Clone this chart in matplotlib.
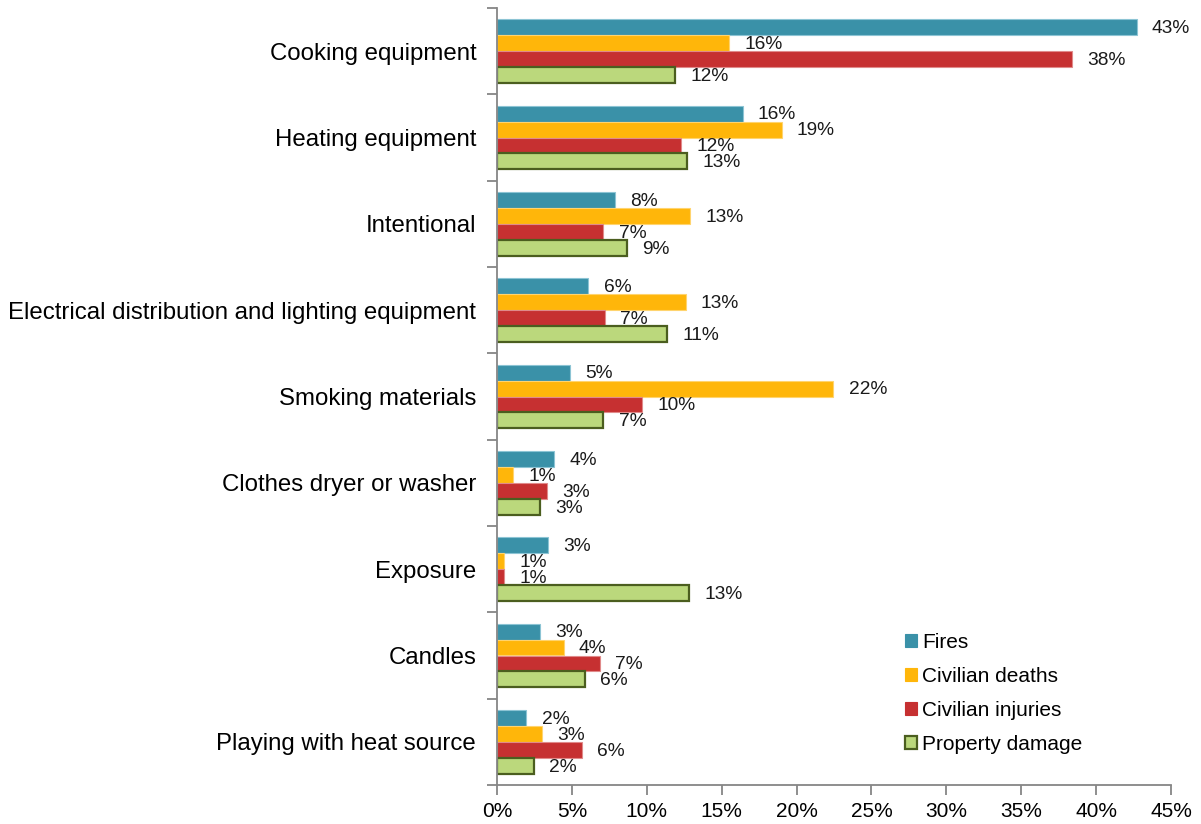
import matplotlib.pyplot as plt
from matplotlib.patches import Patch
import numpy as np

plt.rcParams['font.family'] = ['Liberation Sans', 'DejaVu Sans']

categories = ["Cooking equipment", "Heating equipment", "Intentional",
              "Electrical distribution and lighting equipment", "Smoking materials",
              "Clothes dryer or washer", "Exposure", "Candles", "Playing with heat source"]

fires = [42.7, 16.4, 7.85, 6.1, 4.9, 3.8, 3.4, 2.9, 1.96]
deaths = [15.5, 19.0, 12.9, 12.6, 22.45, 1.1, 0.5, 4.45, 2.98]
injuries = [38.4, 12.3, 7.1, 7.2, 9.7, 3.35, 0.5, 6.85, 5.67]
property_damage = [11.9, 12.7, 8.65, 11.35, 7.1, 2.85, 12.85, 5.85, 2.45]

series_names = ["Fires", "Civilian deaths", "Civilian injuries", "Property damage"]
xticks = [0, 5, 10, 15, 20, 25, 30, 35, 40, 45]

fills = ["#3A91A8", "#FFB60A", "#C63031", "#BBD87C"]
edges = ["#8CC4D4", "#FFD46E", "#E08A8A", "#4B5E1F"]
widths = [0.8, 0.8, 0.8, 1.6]


def main():
    fig = plt.figure(figsize=(12.01, 8.24), dpi=100)
    ax = fig.add_axes([497 / 1201, 39 / 824, 674 / 1201, 777 / 824])

    y = np.arange(len(categories))
    h = 0.185
    data = [fires, deaths, injuries, property_damage]
    for k, vals in enumerate(data):
        pos = y + (k - 1.5) * h
        ax.barh(pos, vals, height=h, color=fills[k], edgecolor=edges[k], linewidth=widths[k])
        for p, v in zip(pos, vals):
            ax.annotate("%d%%" % int(v + 0.5), (v, p), xytext=(11, -1), textcoords="offset points",
                        ha="left", va="center", fontsize=13.8, color="#1a1a1a")

    ax.set_xlim(0, 45)
    ax.set_ylim(len(categories) - 0.5, -0.5)
    ax.set_xticks(xticks)
    ax.set_xticklabels(["%d%%" % t for t in xticks], fontsize=15)

    ax.set_yticks(np.arange(len(categories) + 1) - 0.5)
    ax.set_yticklabels([])
    ax.set_yticks(y, minor=True)
    ax.set_yticklabels(categories, minor=True, fontsize=17.25)
    ax.tick_params(axis="y", which="minor", length=0, pad=15)
    ax.tick_params(axis="y", which="major", length=7, color="#868686", width=1.3)
    ax.tick_params(axis="x", length=7, color="#868686", width=1.3, pad=5)

    for s in ["top", "right"]:
        ax.spines[s].set_visible(False)
    for s in ["left", "bottom"]:
        ax.spines[s].set_color("#868686")
        ax.spines[s].set_linewidth(1.3)

    handles = [Patch(facecolor=fills[k], edgecolor=edges[k] if k == 3 else fills[k],
                     linewidth=widths[k]) for k in range(4)]
    ax.legend(handles, series_names, loc="lower left", bbox_to_anchor=(0.605, 0.04),
              frameon=False, fontsize=15, handlelength=0.6, handleheight=0.6,
              handletextpad=0.25, labelspacing=0.72, borderpad=0, borderaxespad=0)

    fig.savefig("out.png", dpi=100)


if __name__ == "__main__":
    main()
